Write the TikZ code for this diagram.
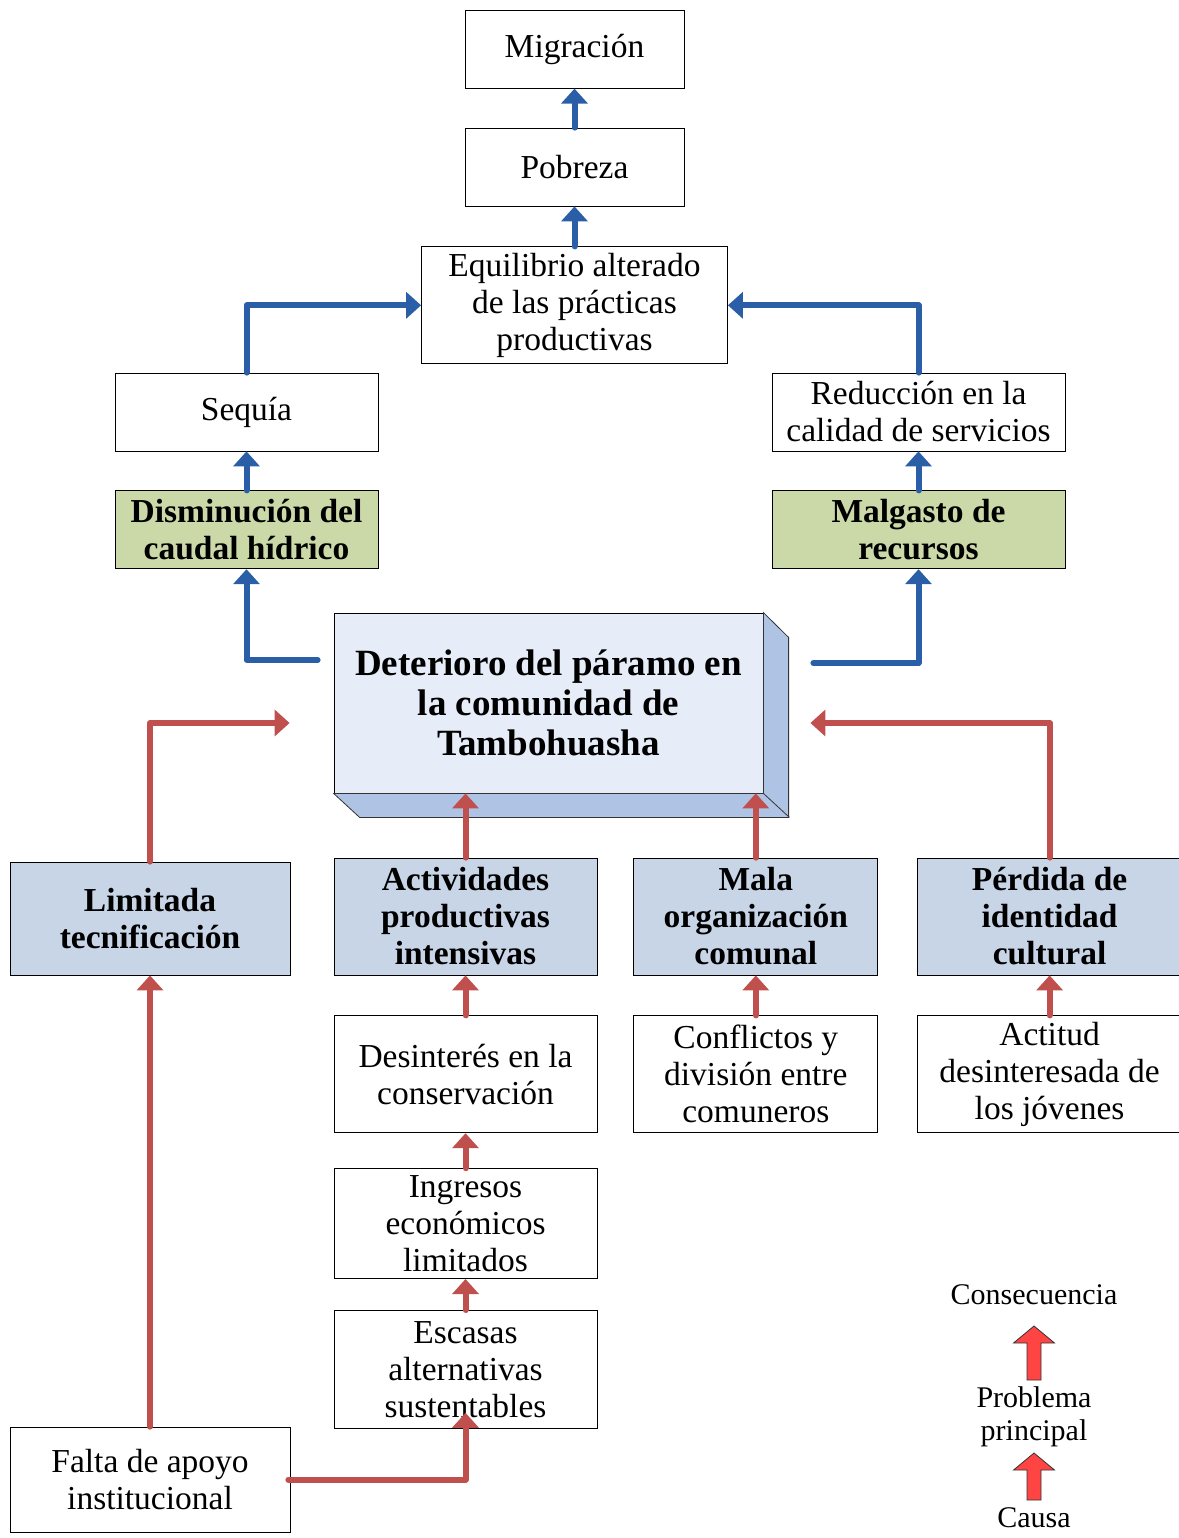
\documentclass[tikz,border=0pt]{standalone}
\usepackage{fontspec}
\setmainfont{Liberation Serif}
\usetikzlibrary{arrows.meta,positioning,calc}
\definecolor{arrblue}{HTML}{2A5FA8}
\definecolor{arrred}{HTML}{C0504D}
\definecolor{greenfill}{HTML}{CAD9A7}
\definecolor{bluefill}{HTML}{C8D5E7}
\definecolor{frontfill}{HTML}{E6EDF8}
\definecolor{sidefill}{HTML}{AFC3E4}
\definecolor{legfill}{HTML}{FF4444}
\begin{document}
\begin{tikzpicture}[x=1pt, y=-1pt, font=\fontsize{33.5}{37}\selectfont, node distance=39pt and 36pt]
\tikzstyle{box}=[rectangle, draw=black, line width=0.8pt, inner sep=2pt, align=center, fill=white, minimum width=263pt, minimum height=78pt]
\tikzstyle{gbox}=[box, fill=greenfill, font=\fontsize{33.5}{37}\selectfont\bfseries]
\tikzstyle{bbox}=[box, fill=bluefill, minimum height=117pt, font=\fontsize{33.5}{37}\selectfont\bfseries]
\tikzstyle{blu}=[draw=arrblue, line width=6pt, line cap=round, line join=round, -{Triangle[width=26pt,length=15pt]}]
\tikzstyle{rd}=[blu, draw=arrred]
\tikzstyle{legarr}=[draw=black!80, line width=0.8pt, fill=legfill]
\tikzstyle{legtext}=[font=\fontsize{30}{33}\selectfont, align=center]
\useasboundingbox (0,0) rectangle (1178,1538);
% consecuencias
\node[box, minimum width=219pt] (pob) at (574.5,167) {Pobreza};
\node[box, minimum width=219pt, above=of pob] (mig) {Migración};
\node[box, minimum width=306pt, minimum height=117pt, below=40pt of pob] (equi) {Equilibrio alterado\\de las prácticas\\productivas};
\node[box] (seq) at (246.5,412) {Sequía};
\node[box, minimum width=293pt] (redu) at (918.5,412) {Reducción en la\\calidad de servicios};
\node[gbox, below=of seq] (dism) {Disminución del\\caudal hídrico};
\node[gbox, minimum width=293pt, below=of redu] (malg) {Malgasto de\\recursos};
% problema principal
\node[box, fill=frontfill, minimum width=429pt, minimum height=180pt, font=\fontsize{37}{40}\selectfont\bfseries] (main) at (548.5,703) {Deterioro del páramo en\\la comunidad de\\Tambohuasha};
\draw[line width=0.8pt, draw=black!80, fill=sidefill] (main.south west) -- ++(26,24) -- ++(429,0) -- ++(0,-180) -- (main.north east) -- (main.south east) -- cycle;
\draw[line width=0.8pt, draw=black!80] (main.south east) -- ++(26,24);
% causas
\node[bbox, minimum width=280pt, minimum height=113pt] (lim) at (150,918.5) {Limitada\\tecnificación};
\node[bbox] (act) at (465.5,916.5) {Actividades\\productivas\\intensivas};
\node[bbox, minimum width=244pt, right=of act] (mala) {Mala\\organización\\comunal};
\node[bbox, minimum width=264pt, right=39pt of mala] (perd) {Pérdida de\\identidad\\cultural};
\node[box, minimum height=117pt, below=40pt of act] (des) {Desinterés en la\\conservación};
\node[box, minimum width=244pt, minimum height=117pt, below=40pt of mala] (conf) {Conflictos y\\división entre\\comuneros};
\node[box, minimum width=264pt, minimum height=117pt, below=40pt of perd] (actit) {Actitud\\desinteresada de\\los jóvenes};
\node[box, minimum height=110pt, below=35pt of des] (ing) {Ingresos\\económicos\\limitados};
\node[box, minimum height=118pt, below=31pt of ing] (esc) {Escasas\\alternativas\\sustentables};
\node[box, minimum width=280pt, minimum height=105pt] (falta) at (150,1479.5) {Falta de apoyo\\institucional};
\coordinate (mainL) at ($(main.west)+(-16,-43)$);
\coordinate (mainR) at ($(main.east)+(50,-40)$);
\coordinate (limR) at ($(main.west)+(-44,20)$);
\coordinate (perdL) at ($(main.east)+(47,20)$);
\draw[blu] (pob) -- (mig);
\draw[blu] (equi) -- (pob);
\draw[blu] (seq.north) |- (equi.west);
\draw[blu] (redu.north) |- (equi.east);
\draw[blu] (dism) -- (seq);
\draw[blu] (malg) -- (redu);
\draw[blu] (mainL) -| (dism.south);
\draw[blu] (mainR) -| (malg.south);
\draw[rd] (lim.north) |- (limR);
\draw[rd] (perd.north) |- (perdL);
\draw[rd] (act.north) -- (act.north |- main.south);
\draw[rd] (mala.north) -- (mala.north |- main.south);
\draw[rd] (des) -- (act);
\draw[rd] (conf) -- (mala);
\draw[rd] (actit) -- (perd);
\draw[rd] (ing) -- (des);
\draw[rd] (esc) -- (ing);
\draw[rd] (falta.north) -- (lim.south);
\draw[rd] ([xshift=-2pt]falta.east) -| ([yshift=16pt]esc.south);
% leyenda
\node[legtext] (cons) at (1034,1295) {Consecuencia};
\node[legtext] (prob) at (1034,1417) {Problema\\principal};
\node[legtext] (causa) at (1034,1518) {Causa};
\foreach \yb/\yt in {1380/1326, 1500/1453}
  \draw[legarr] (1027,\yb) -- (1041,\yb) -- (1041,\yt+17) -- (1054.5,\yt+17) -- (1034,\yt) -- (1013.5,\yt+17) -- (1027,\yt+17) -- cycle;
\end{tikzpicture}
\end{document}
